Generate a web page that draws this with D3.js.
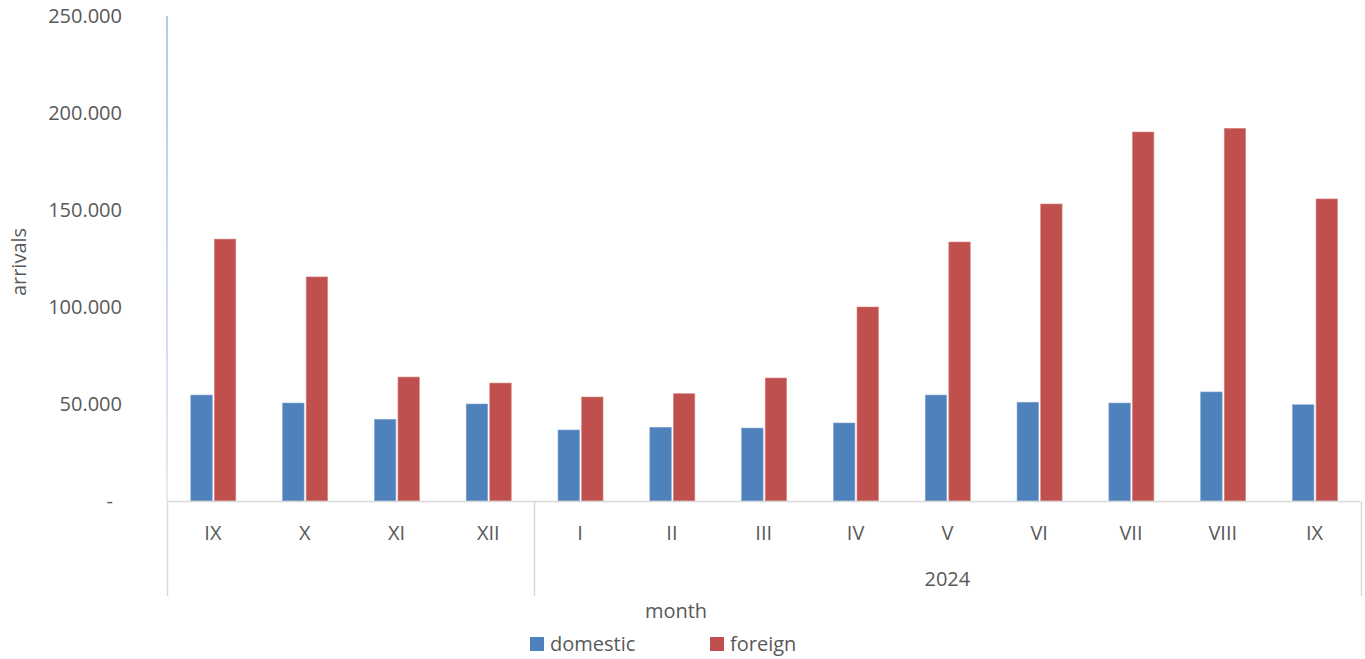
<!DOCTYPE html>
<html>
<head>
<meta charset="utf-8">
<script src="https://cdn.jsdelivr.net/npm/d3@7"></script>
<style>
  html, body { margin: 0; padding: 0; background: #fff; }
  svg { display: block; }
  text { font-family: "Open Sans", "Noto Sans", sans-serif; fill: #595959; }
</style>
</head>
<body>
<svg id="chart" width="1365" height="659"></svg>
<script>
// ---- data ----
const months = ["IX", "X", "XI", "XII", "I", "II", "III", "IV", "V", "VI", "VII", "VIII", "IX"];
const years = ["", "", "", "", "2024", "2024", "2024", "2024", "2024", "2024", "2024", "2024", "2024"];
const domestic = [54600, 50500, 42100, 50000, 36600, 38000, 37600, 40200, 54600, 50900, 50500, 56200, 49600];
const foreign = [135000, 115500, 63900, 60800, 53600, 55300, 63400, 100000, 133500, 153100, 190200, 192100, 155700];
const seriesNames = ["domestic", "foreign"];
const seriesColors = ["#4F81BD", "#C0504D"];
const yTicks = [0, 50000, 100000, 150000, 200000, 250000];
const yTickLabels = ["-", "50.000", "100.000", "150.000", "200.000", "250.000"];
const yTitle = "arrivals";
const xTitle = "month";

// ---- layout ----
const svg = d3.select("#chart");
const plotL = 167, plotR = 1360.5, plotT = 16, plotB = 501;

const x0 = d3.scaleBand().domain(d3.range(months.length)).range([plotL, plotR]).padding(0);
const x1 = d3.scaleBand().domain(seriesNames).range([0, 45]).paddingInner(0.09).paddingOuter(0);
const y = d3.scaleLinear().domain([0, 250000]).range([plotB, plotT]);

// left axis line (light blue gradient)
const defs = svg.append("defs");
const grad = defs.append("linearGradient").attr("id", "axgrad").attr("x1", 0).attr("y1", 0).attr("x2", 0).attr("y2", 1);
grad.append("stop").attr("offset", "0%").attr("stop-color", "#B4C9E6");
grad.append("stop").attr("offset", "100%").attr("stop-color", "#E2EAF5");
svg.append("rect").attr("x", plotL - 1).attr("y", plotT).attr("width", 2).attr("height", plotB - plotT).attr("fill", "url(#axgrad)");

// y tick labels
svg.append("g").selectAll("text").data(yTicks).join("text")
  .attr("x", (d, i) => i === 0 ? 113 : 122)
  .attr("y", d => y(d))
  .attr("dy", "0.35em")
  .attr("text-anchor", "end")
  .style("font-size", "20px")
  .text((d, i) => yTickLabels[i]);

// bars
const rows = months.map((m, i) => ({ i, vals: [domestic[i], foreign[i]] }));
const groups = svg.append("g").selectAll("g").data(rows).join("g")
  .attr("transform", d => `translate(${x0(d.i) + x0.bandwidth() / 2 - 22.5 + 0.4},0)`);
groups.selectAll("rect").data(d => d.vals.map((v, k) => ({ v, k }))).join("rect")
  .attr("x", d => x1(seriesNames[d.k]))
  .attr("y", d => y(d.v))
  .attr("width", x1.bandwidth())
  .attr("height", d => plotB - y(d.v))
  .attr("fill", d => seriesColors[d.k])
  .attr("stroke", d => d.k === 0 ? "#7FA3D1" : "#D88683")
  .attr("stroke-width", 0.6);

// bottom axis line
svg.append("line").attr("x1", plotL).attr("x2", plotR).attr("y1", plotB + 0.5).attr("y2", plotB + 0.5)
  .attr("stroke", "#D9D9D9").attr("stroke-width", 1.5);

// month labels
svg.append("g").selectAll("text").data(months).join("text")
  .attr("x", (d, i) => x0(i) + x0.bandwidth() / 2)
  .attr("y", 533)
  .attr("dy", "0.35em")
  .attr("text-anchor", "middle")
  .style("font-size", "20px")
  .text(d => d);

// year groups
const yearGroups = [];
years.forEach((yr, i) => {
  const last = yearGroups[yearGroups.length - 1];
  if (last && last.label === yr) last.end = i; else yearGroups.push({ label: yr, start: i, end: i });
});
const sepX = [x0(0)];
yearGroups.forEach(g => sepX.push(x0(g.end) + x0.bandwidth()));
svg.append("g").selectAll("line").data(sepX).join("line")
  .attr("x1", d => Math.round(d) + 0.5).attr("x2", d => Math.round(d) + 0.5)
  .attr("y1", plotB).attr("y2", 596)
  .attr("stroke", "#D9D9D9").attr("stroke-width", 1.5);
svg.append("g").selectAll("text").data(yearGroups).join("text")
  .attr("x", g => (x0(g.start) + x0(g.end) + x0.bandwidth()) / 2)
  .attr("y", 579)
  .attr("dy", "0.35em")
  .attr("text-anchor", "middle")
  .style("font-size", "20px")
  .text(g => g.label);

// axis titles
svg.append("text").attr("x", 676).attr("y", 611).attr("dy", "0.35em").attr("text-anchor", "middle")
  .style("font-size", "20px").text(xTitle);
svg.append("text").attr("transform", "translate(19,262) rotate(-90)").attr("dy", "0.35em").attr("text-anchor", "middle")
  .style("font-size", "20px").text(yTitle);

// legend
const legX = [530, 710];
const leg = svg.append("g").selectAll("g").data(seriesNames).join("g")
  .attr("transform", (d, i) => `translate(${legX[i]},637)`);
leg.append("rect").attr("width", 14).attr("height", 14).attr("fill", (d, i) => seriesColors[i]);
leg.append("text").attr("x", 20).attr("y", 7).attr("dy", "0.35em").style("font-size", "20px").text(d => d);
</script>
</body>
</html>
